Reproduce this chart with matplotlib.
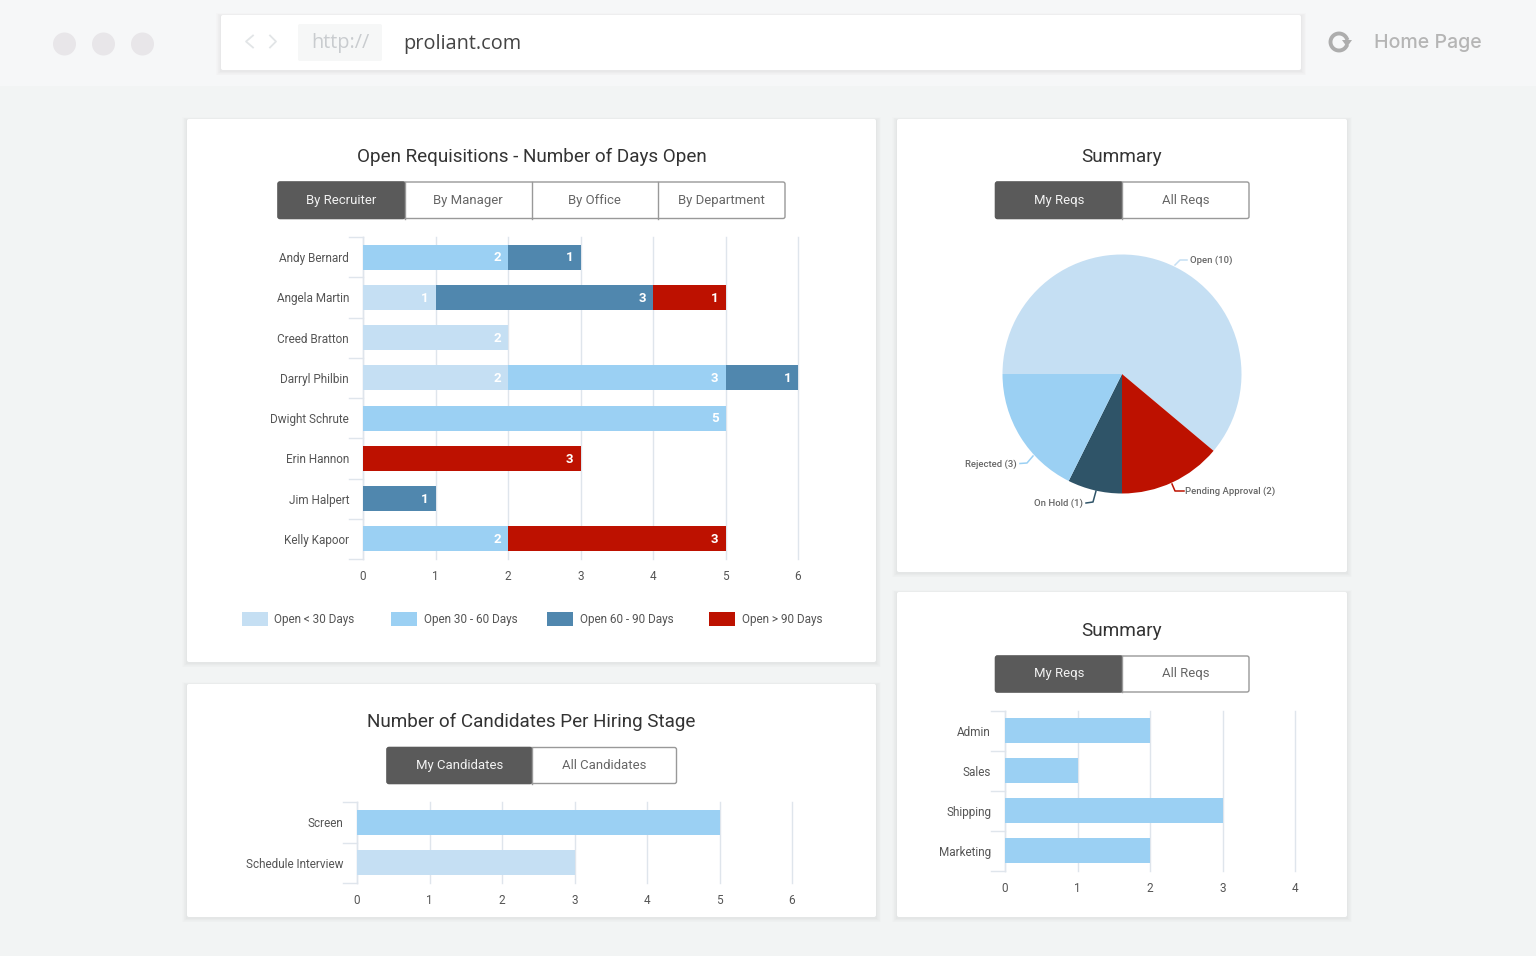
import numpy as np
import matplotlib
matplotlib.use('Agg')
from matplotlib import pyplot as plt
from matplotlib.patches import Rectangle, FancyBboxPatch, Circle

W, H = 1536, 956

LIGHT = '#c5dff3'
SKY = '#9bd0f3'
STEEL = '#5087ae'
RED = '#bd1100'
NAVY = '#2f5468'
GRID = '#dfe5ec'
TEXT = '#555555'

# open requisitions
recruiters = ['Andy Bernard', 'Angela Martin', 'Creed Bratton', 'Darryl Philbin',
              'Dwight Schrute', 'Erin Hannon', 'Jim Halpert', 'Kelly Kapoor']
open_lt30 = [0, 1, 2, 2, 0, 0, 0, 0]
open_30_60 = [2, 0, 0, 3, 5, 0, 0, 2]
open_60_90 = [1, 3, 0, 1, 0, 0, 1, 0]
open_gt90 = [0, 1, 0, 0, 0, 3, 0, 3]
legend_names = ['Open < 30 Days', 'Open 30 - 60 Days', 'Open 60 - 90 Days', 'Open > 90 Days']

# candidates per stage
stages = ['Screen', 'Schedule Interview']
stage_counts = [5, 3]
stage_colors = [SKY, LIGHT]

# summary pie, the drawn slices are not quite in proportion to the counts
pie_names = ['Open', 'Pending Approval', 'On Hold', 'Rejected']
pie_counts = [10, 2, 1, 3]
pie_sweeps = [220, 50, 26.5, 63.5]
pie_colors = [LIGHT, RED, NAVY, SKY]

# summary bars
departments = ['Admin', 'Sales', 'Shipping', 'Marketing']
dept_counts = [2, 1, 3, 2]

plt.rcParams['font.family'] = ['Roboto', 'DejaVu Sans']

fig = plt.figure(figsize=(W / 100, H / 100), dpi=100, facecolor='#f2f4f4')

# page layer in pixel coords
bg = fig.add_axes([0, 0, 1, 1], zorder=0)
bg.set_xlim(0, W)
bg.set_ylim(H, 0)
bg.axis('off')


def shadow(x, y, w, h):
    for i in range(1, 8):
        bg.add_patch(Rectangle((x - i * 0.7, y - i * 0.4 + 1), w + i * 1.4, h + i * 1.0,
                               fc='#777777', ec='none', alpha=0.014))


def card(x, y, w, h):
    shadow(x, y, w, h)
    bg.add_patch(FancyBboxPatch((x + 1, y + 1), w - 2, h - 2, boxstyle='round,pad=1,rounding_size=2',
                                fc='white', ec='none'))


def tabs(x0, y, w, h, names):
    n = len(names)
    tw = w / n
    bg.add_patch(FancyBboxPatch((x0, y), w, h, boxstyle='round,pad=0,rounding_size=2',
                                fc='white', ec='#999999', lw=1.0, zorder=2))
    bg.add_patch(FancyBboxPatch((x0, y), tw, h, boxstyle='round,pad=0,rounding_size=2',
                                fc='#5a5a5a', ec='#5a5a5a', lw=1.0, zorder=3))
    for i, name in enumerate(names):
        if i > 0:
            bg.plot([x0 + i * tw] * 2, [y, y + h], color='#999999', lw=1.0, zorder=4)
        bg.text(x0 + (i + 0.5) * tw, y + h / 2, name, ha='center', va='center', fontsize=9.45,
                color='#f2f2f2' if i == 0 else '#666666', zorder=5)


def place(x0, y0, x1, y1):
    return fig.add_axes([x0 / W, 1 - y1 / H, (x1 - x0) / W, (y1 - y0) / H], zorder=2)


def bar_axes(x0, y0, x1, y1, names, xmax):
    ax = place(x0, y0, x1, y1)
    ax.patch.set_alpha(0)
    ax.set_xlim(0, xmax)
    ax.set_ylim(len(names) - 0.5, -0.5)
    for s in ['top', 'right', 'bottom']:
        ax.spines[s].set_visible(False)
    ax.spines['left'].set_color(GRID)
    ax.spines['left'].set_linewidth(1.0)
    ax.set_xticks(range(xmax + 1))
    ax.grid(axis='x', color=GRID, lw=1.0, clip_on=False)
    ax.set_axisbelow(True)
    ax.set_yticks(np.arange(len(names)))
    ax.set_yticklabels(names, fontsize=8.5, color=TEXT)
    ax.tick_params(axis='y', length=0, pad=10)
    ax.tick_params(axis='x', length=0, pad=8, labelsize=8.5, labelcolor=TEXT)
    # group separators on the category axis
    for b in np.arange(len(names) + 1) - 0.5:
        ax.plot([-14 / ((x1 - x0) / xmax), 0], [b, b], color=GRID, lw=1.0, clip_on=False)
    return ax


# browser bar
bg.add_patch(Rectangle((0, 0), W, 86, fc='#f6f7f8', ec='none'))
for cx in [64.5, 103.5, 142.5]:
    bg.add_patch(Circle((cx, 44), 11.5, fc='#e8e6e9', ec='none'))
shadow(221, 15, 1080, 55)
bg.add_patch(FancyBboxPatch((222, 16), 1078, 53, boxstyle='round,pad=1,rounding_size=2', fc='white', ec='none'))
bg.plot([253, 246, 253], [35.5, 41.5, 47.5], color='#e2e5e7', lw=1.3)
bg.plot([270, 276, 270], [35.5, 41.5, 47.5], color='#e2e5e7', lw=1.3)
bg.add_patch(FancyBboxPatch((298, 24), 84, 37, boxstyle='round,pad=0,rounding_size=2', fc='#f6f7f7', ec='none'))
bg.text(340.5, 43, 'http://', ha='center', va='center', fontsize=14.3, color='#c9cccf', family=['Open Sans', 'DejaVu Sans'])
bg.text(403, 43.5, 'proliant.com', ha='left', va='center', fontsize=14.3, color='#444444', family=['Open Sans', 'DejaVu Sans'])
theta = np.radians(np.arange(30, 340, 5))
bg.plot(1339 + 8.5 * np.cos(theta), 42 + 8.5 * np.sin(theta), color='#adadad', lw=2.8)
bg.fill([1342, 1352, 1347], [40, 40, 47], color='#adadad', lw=0)
bg.text(1374, 42.5, 'Home Page', ha='left', va='center', fontsize=14.1, color='#b5b5b5', family=['Inter', 'DejaVu Sans'], fontweight='medium')

card(187, 119, 689, 543)
card(897, 119, 450, 453)
card(187, 684, 689, 233)
card(897, 592, 450, 325)

bg.text(531.5, 156.5, 'Open Requisitions - Number of Days Open', ha='center', va='center', fontsize=13.55, color='#333333')
bg.text(1122, 156.5, 'Summary', ha='center', va='center', fontsize=13.7, color='#333333')
bg.text(531.5, 721.5, 'Number of Candidates Per Hiring Stage', ha='center', va='center', fontsize=13.55, color='#333333')
bg.text(1122, 630.5, 'Summary', ha='center', va='center', fontsize=13.7, color='#333333')

tabs(278, 182, 507, 36.5, ['By Recruiter', 'By Manager', 'By Office', 'By Department'])
tabs(995.5, 182, 253.5, 36.5, ['My Reqs', 'All Reqs'])
tabs(995.5, 656, 253.5, 36, ['My Reqs', 'All Reqs'])
tabs(387, 747.5, 289.5, 36, ['My Candidates', 'All Candidates'])

# stacked bars
ax1 = bar_axes(363, 237, 798, 559, recruiters, 6)
left = np.zeros(len(recruiters))
series = [open_lt30, open_30_60, open_60_90, open_gt90]
series_colors = [LIGHT, SKY, STEEL, RED]
for vals, col in zip(series, series_colors):
    vals = np.array(vals)
    ax1.barh(recruiters, vals, left=left, height=0.625, color=col, zorder=3)
    for i, v in enumerate(vals):
        if v > 0:
            ax1.text(left[i] + v - 0.095, i + 0.02, str(v), ha='right', va='center', color='white',
                     fontsize=9.5, fontweight='bold', zorder=4)
    left += vals

# legend
legend_x = [242, 391, 547, 709]
for lx, name, col in zip(legend_x, legend_names, series_colors):
    bg.add_patch(Rectangle((lx, 612), 25.5, 13.5, fc=col, ec='none'))
    bg.text(lx + 32.5, 619.5, name, ha='left', va='center', fontsize=8.5, color=TEXT)

# stage bars
ax2 = bar_axes(357, 802, 792, 883, stages, 6)
ax2.barh(stages, stage_counts, height=0.625, color=stage_colors, zorder=3)

# department bars
ax3 = bar_axes(1005, 710.5, 1295, 871, departments, 4)
ax3.barh(departments, dept_counts, height=0.625, color=SKY, zorder=3)

# pie
R = 119.5
ax4 = place(1122 - R, 374 - R, 1122 + R, 374 + R)
ax4.pie(pie_sweeps, colors=pie_colors, startangle=180, counterclock=False, radius=1,
        wedgeprops={'linewidth': 0})
ax4.set_xlim(-1, 1)
ax4.set_ylim(-1, 1)

# leader lines and labels of the pie
leaders = [[(1175, 265), (1180, 260), (1187, 260)],
           [(1172, 484), (1175, 491), (1184, 491)],
           [(1096, 491), (1093, 502), (1086, 503)],
           [(1033, 456), (1027, 463), (1020, 463.5)]]
label_pos = [(1190, 260, 'left'), (1185, 491.5, 'left'), (1083, 503.5, 'right'), (1017, 464.5, 'right')]
for name, val, col, path, lp in zip(pie_names, pie_counts, pie_colors, leaders, label_pos):
    bg.plot([p[0] for p in path], [p[1] for p in path], color=col, lw=1.1, zorder=1)
    bg.text(lp[0], lp[1], f'{name} ({val})', ha=lp[2], va='center', fontsize=6.8, color='#666666', fontweight='medium')

fig.savefig('out.png', dpi=100, facecolor=fig.get_facecolor())
